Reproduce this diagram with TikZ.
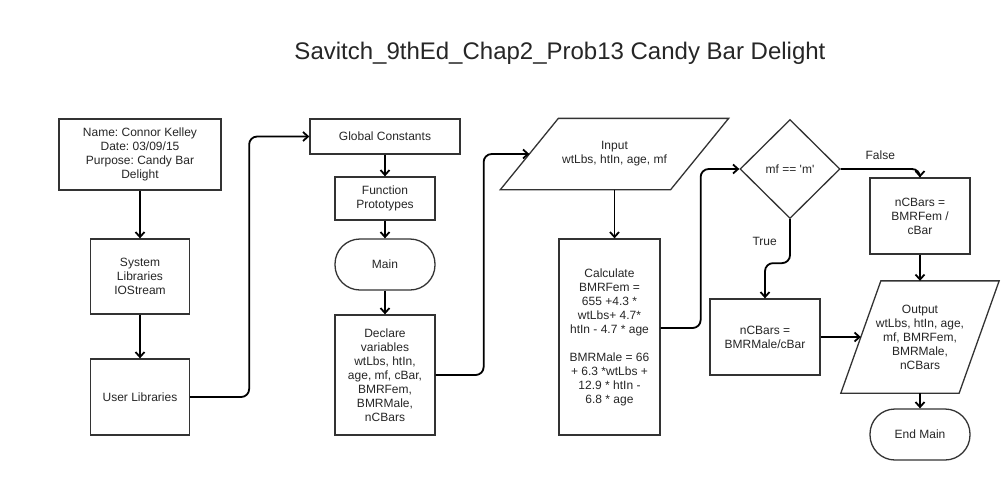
\documentclass[tikz,border=0pt]{standalone}
\usepackage{fontspec}
\setmainfont{Liberation Sans}
\frenchspacing
\usetikzlibrary{shapes.geometric,arrows.meta}

\tikzset{
  box/.style={draw=black!80,line width=1.3pt,fill=white,align=center,text=black!85,
    font=\fontsize{12}{14}\selectfont,inner sep=2pt},
  term/.style={box,rounded corners=25pt},
  iotext/.style={box,draw=none,fill=none},
  ioline/.style={draw=black!80,line width=1.3pt},
  dec/.style={box,diamond,aspect=1,inner sep=0pt},
  flow/.style={line width=1.8pt,rounded corners=8pt,-{Straight Barb[length=5pt,width=9pt]}},
  lbl/.style={text=black!85,font=\fontsize{12}{14}\selectfont}
}

\begin{document}
\begin{tikzpicture}[x=1pt,y=-1pt]
\useasboundingbox[fill=white] (0,0) rectangle (1002,480);
\node[text=black!85,font=\fontsize{24}{28}\selectfont] (title) at (560,53) {Savitch\_9thEd\_Chap2\_Prob13 Candy Bar Delight};

\node[box,minimum width=162pt,minimum height=71pt] (name) at (140,154.5) {Name: Connor Kelley\\Date: 03/09/15\\Purpose: Candy Bar\\Delight};
\node[box,minimum width=99pt,minimum height=75pt] (syslib) at (140,276.5) {System\\Libraries\\IOStream};
\node[box,minimum width=99pt,minimum height=76pt] (userlib) at (140,397) {User Libraries};

\node[box,minimum width=150pt,minimum height=35pt] (globconst) at (385,136.5) {Global Constants};
\node[box,minimum width=100pt,minimum height=43pt] (protos) at (385,198.5) {Function\\Prototypes};
\node[term,minimum width=100pt,minimum height=51pt] (main) at (385,264.5) {Main};
\node[box,minimum width=100pt,minimum height=120pt] (declare) at (385,375) {Declare\\variables\\wtLbs, htIn,\\age, mf, cBar,\\BMRFem,\\BMRMale,\\nCBars};

\node[iotext,minimum width=169pt,minimum height=70pt] (input) at (614.5,154) {Input\\wtLbs, htIn, age, mf};
\draw[ioline] ([xshift=-29pt]input.south west) -- ([xshift=-29pt]input.south east)
  -- ([xshift=29pt]input.north east) -- ([xshift=29pt]input.north west) -- cycle;
\node[box,minimum width=101pt,minimum height=196pt] (calc) at (609.5,337) {Calculate\\BMRFem =\\655 +4.3 *\\wtLbs+ 4.7*\\htIn - 4.7 * age\\[14pt]BMRMale = 66\\+ 6.3 *wtLbs +\\12.9 * htIn -\\6.8 * age};

\node[dec,minimum width=100pt,minimum height=99pt] (mfcheck) at (790,169) {mf == \textquotesingle m\textquotesingle};
\node[box,minimum width=100pt,minimum height=76pt] (fembars) at (920,216) {nCBars =\\BMRFem /\\cBar};
\node[box,minimum width=110pt,minimum height=76pt] (malebars) at (765,337) {nCBars =\\BMRMale/cBar};
\node[iotext,minimum width=117pt,minimum height=111pt] (output) at (920,337) {Output\\wtLbs, htIn, age,\\mf, BMRFem,\\BMRMale,\\nCBars};
\draw[ioline] ([xshift=-20pt]output.south west) -- ([xshift=-20pt]output.south east)
  -- ([xshift=20pt]output.north east) -- ([xshift=20pt]output.north west) -- cycle;
\node[term,minimum width=100pt,minimum height=51pt] (endmain) at (920,434.5) {End Main};

\draw[flow] (name) -- (syslib);
\draw[flow] (syslib) -- (userlib);
\draw[flow] (userlib.east) -- ++(59,0) |- (globconst.west);
\draw[flow] (globconst) -- (protos);
\draw[flow] (protos) -- (main);
\draw[flow] (main) -- (declare);
\draw[flow] (declare.east) -- ++(48,0) |- (input.west);
\draw[flow] (input.south) -- (input.south |- calc.north);
\draw[flow] ([yshift=9pt]calc.east) -- ++(40,0) |- (mfcheck.west);
\draw[flow] (mfcheck.east) -| node[lbl,pos=0.25,above=5pt] {False} (fembars.north);
\draw[flow] (mfcheck.south) -- node[lbl,left=9pt] {True} ++(0,44) -| (malebars.north);
\draw[flow] (malebars.east) -- (output.west);
\draw[flow] (fembars.south) -- (fembars.south |- output.north);
\draw[flow] (output.south) -- (endmain.north);
\end{tikzpicture}
\end{document}
